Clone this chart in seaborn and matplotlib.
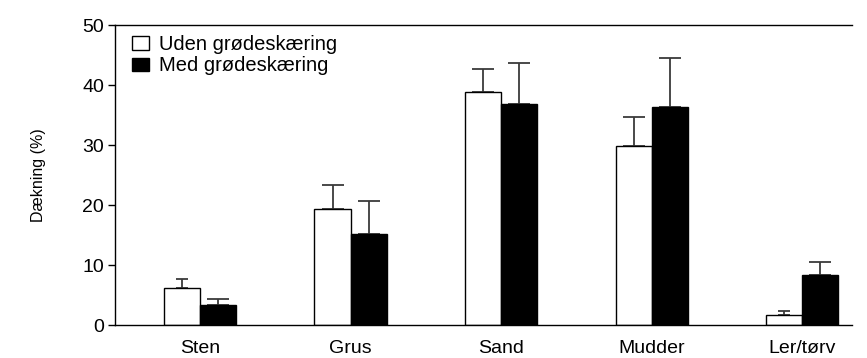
import matplotlib
matplotlib.use("Agg")
import matplotlib.pyplot as plt
import seaborn as sns
import pandas as pd
import numpy as np

categories = ["Sten", "Grus", "Sand", "Mudder", "Ler/tørv"]
series = ["Uden grødeskæring", "Med grødeskæring"]
uden = [6.2, 19.4, 38.9, 29.9, 1.7]
med = [3.3, 15.2, 36.9, 36.3, 8.3]
uden_err = [1.5, 3.9, 3.8, 4.8, 0.6]
med_err = [1.0, 5.5, 6.8, 8.2, 2.2]

sns.set_theme(style="ticks")
plt.rcParams["font.family"] = ["Liberation Sans", "DejaVu Sans"]
plt.rcParams["text.color"] = "black"
plt.rcParams["axes.labelcolor"] = "black"
plt.rcParams["xtick.color"] = "black"
plt.rcParams["ytick.color"] = "black"

df = pd.DataFrame({
    "Substrat": categories * 2,
    "Dækning": uden + med,
    "Behandling": [series[0]] * 5 + [series[1]] * 5,
})

fig = plt.figure(figsize=(8.67, 3.58), dpi=100)
ax = fig.add_axes([115 / 867, 1 - 325 / 358, (852 - 115) / 867, 300 / 358])
sns.barplot(data=df, x="Substrat", y="Dækning", hue="Behandling",
            palette=["white", "black"], edgecolor="black", linewidth=1.0,
            width=0.48, gap=0, errorbar=None, ax=ax, saturation=1)

errs = uden_err + med_err
caps = [4.3, 7.6, 7.6, 7.6, 4.0, 7.6, 7.6, 7.6, 7.6, 7.6]
for p, e, c in zip(ax.patches[:10], errs, caps):
    x = p.get_x() + p.get_width() / 2
    h = p.get_height()
    ax.errorbar(x, h, yerr=[[0], [e]], fmt="none", ecolor="#3a3a3a",
                elinewidth=1.3, capsize=c, capthick=1.3, zorder=0.5)

ax.set_xlim(-0.565, 4.33)
ax.set_ylim(0, 50)
ax.set_yticks([0, 10, 20, 30, 40, 50])
ax.set_xlabel("")
ax.set_ylabel("Dækning (%)", fontsize=11.5, labelpad=26)
ax.tick_params(axis="y", labelsize=14, length=5, width=1, color="black", pad=3,
               labelcolor="black")
ax.tick_params(axis="x", labelsize=14, length=0, pad=11, labelcolor="black")
for s in ["left", "top", "bottom"]:
    ax.spines[s].set_visible(True)
    ax.spines[s].set_color("black")
    ax.spines[s].set_linewidth(1)
ax.spines["right"].set_visible(False)

leg = ax.legend(loc="upper left", frameon=False, fontsize=14.5,
                handlelength=0.85, handleheight=0.65, handletextpad=0.5,
                labelspacing=0.12, borderaxespad=0.0, borderpad=0.0,
                bbox_to_anchor=(17 / 737, 1 - 10 / 300))
for t in leg.get_texts():
    t.set_color("black")
fig.savefig("out.png", dpi=100)
